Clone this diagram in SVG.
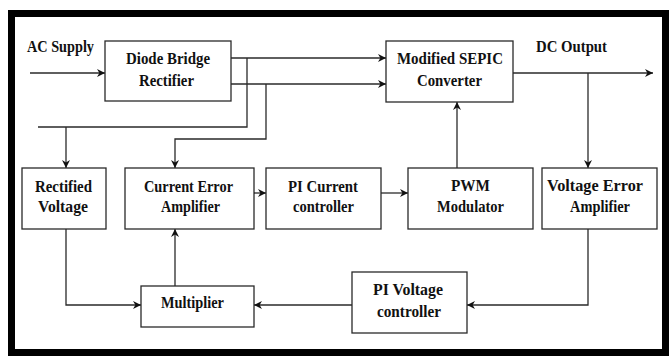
<svg xmlns="http://www.w3.org/2000/svg" width="669" height="356" viewBox="0 0 669 356">
  <style>
    .box { fill: #ffffff; stroke: #2a2a2a; stroke-width: 1.3; }
    .wire { fill: none; stroke: #2a2a2a; stroke-width: 1.3; }
    .arr { marker-end: url(#head); }
  </style>
  <defs>
    <marker id="head" viewBox="0 0 10 10" refX="10" refY="5" markerWidth="8" markerHeight="8" markerUnits="userSpaceOnUse" orient="auto">
      <path d="M0,0 L10,5 L0,10 L3,5 Z" fill="#111111"/>
    </marker>
  </defs>

  <rect x="0" y="0" width="669" height="356" fill="#ffffff"/>
  <!-- outer frame -->
  <rect x="11.5" y="13.5" width="654" height="339" fill="none" stroke="#000000" stroke-width="7"/>

  <g id="connectors">
    <!-- AC input -->
    <path class="wire arr" d="M30,73 H105"/>
    <!-- rectifier to converter -->
    <path class="wire arr" d="M231,58 H386"/>
    <path class="wire arr" d="M231,84 H386"/>
    <!-- rectified voltage sensing -->
    <path class="wire" d="M247,58 V127 H38"/>
    <path class="wire arr" d="M66,127 V168"/>
    <!-- current sensing -->
    <path class="wire arr" d="M266,84 V139 H175 V168"/>
    <!-- DC output -->
    <path class="wire arr" d="M513,73 H653"/>
    <path class="wire arr" d="M588,73 V168"/>
    <!-- PWM to converter -->
    <path class="wire arr" d="M457,168 V102"/>
    <!-- current loop -->
    <path class="wire arr" d="M254,193 H266"/>
    <path class="wire arr" d="M381,193 H408"/>
    <!-- reference path -->
    <path class="wire arr" d="M66,229 V305 H141"/>
    <path class="wire arr" d="M175,286 V229"/>
    <path class="wire arr" d="M352,305 H254"/>
    <path class="wire arr" d="M588,229 V305 H467"/>
  </g>

  <!-- free labels -->
  <g id="labels">
    <text x="27" y="52" font-family="'Liberation Serif', serif" font-weight="bold" font-size="17" fill="#111111" textLength="67" lengthAdjust="spacingAndGlyphs">AC Supply</text>
    <text x="536" y="52" font-family="'Liberation Serif', serif" font-weight="bold" font-size="17" fill="#111111" textLength="71" lengthAdjust="spacingAndGlyphs">DC Output</text>
  </g>

  <g id="diode-bridge">
    <rect class="box" x="105" y="41" width="126" height="60"/>
    <text x="168" y="63.5" text-anchor="middle" font-family="'Liberation Serif', serif" font-weight="bold" font-size="17" fill="#111111" textLength="84" lengthAdjust="spacingAndGlyphs">Diode Bridge</text>
    <text x="166.5" y="86" text-anchor="middle" font-family="'Liberation Serif', serif" font-weight="bold" font-size="17" fill="#111111" textLength="55" lengthAdjust="spacingAndGlyphs">Rectifier</text>
  </g>

  <g id="sepic">
    <rect class="box" x="386" y="41" width="127" height="61"/>
    <text x="450" y="64" text-anchor="middle" font-family="'Liberation Serif', serif" font-weight="bold" font-size="17" fill="#111111" textLength="106" lengthAdjust="spacingAndGlyphs">Modified SEPIC</text>
    <text x="449.5" y="86" text-anchor="middle" font-family="'Liberation Serif', serif" font-weight="bold" font-size="17" fill="#111111" textLength="65" lengthAdjust="spacingAndGlyphs">Converter</text>
  </g>

  <g id="rectified-voltage">
    <rect class="box" x="22" y="168" width="84" height="61"/>
    <text x="63.5" y="191.5" text-anchor="middle" font-family="'Liberation Serif', serif" font-weight="bold" font-size="17" fill="#111111" textLength="57" lengthAdjust="spacingAndGlyphs">Rectified</text>
    <text x="63" y="211.5" text-anchor="middle" font-family="'Liberation Serif', serif" font-weight="bold" font-size="17" fill="#111111" textLength="50" lengthAdjust="spacingAndGlyphs">Voltage</text>
  </g>

  <g id="current-error-amplifier">
    <rect class="box" x="125" y="168" width="129" height="61"/>
    <text x="188.5" y="191.5" text-anchor="middle" font-family="'Liberation Serif', serif" font-weight="bold" font-size="17" fill="#111111" textLength="89" lengthAdjust="spacingAndGlyphs">Current  Error</text>
    <text x="190.5" y="212" text-anchor="middle" font-family="'Liberation Serif', serif" font-weight="bold" font-size="17" fill="#111111" textLength="59" lengthAdjust="spacingAndGlyphs">Amplifier</text>
  </g>

  <g id="pi-current">
    <rect class="box" x="266" y="168" width="115" height="61"/>
    <text x="323" y="191.5" text-anchor="middle" font-family="'Liberation Serif', serif" font-weight="bold" font-size="17" fill="#111111" textLength="70" lengthAdjust="spacingAndGlyphs">PI Current</text>
    <text x="323.5" y="212" text-anchor="middle" font-family="'Liberation Serif', serif" font-weight="bold" font-size="17" fill="#111111" textLength="61" lengthAdjust="spacingAndGlyphs">controller</text>
  </g>

  <g id="pwm">
    <rect class="box" x="408" y="168" width="125" height="61"/>
    <text x="470.5" y="191" text-anchor="middle" font-family="'Liberation Serif', serif" font-weight="bold" font-size="17" fill="#111111" textLength="39" lengthAdjust="spacingAndGlyphs">PWM</text>
    <text x="470.5" y="212" text-anchor="middle" font-family="'Liberation Serif', serif" font-weight="bold" font-size="17" fill="#111111" textLength="67" lengthAdjust="spacingAndGlyphs">Modulator</text>
  </g>

  <g id="voltage-error-amplifier">
    <rect class="box" x="542" y="168" width="115" height="61"/>
    <text x="595" y="191" text-anchor="middle" font-family="'Liberation Serif', serif" font-weight="bold" font-size="17" fill="#111111" textLength="96" lengthAdjust="spacingAndGlyphs">Voltage Error</text>
    <text x="600" y="212" text-anchor="middle" font-family="'Liberation Serif', serif" font-weight="bold" font-size="17" fill="#111111" textLength="60" lengthAdjust="spacingAndGlyphs">Amplifier</text>
  </g>

  <g id="multiplier">
    <rect class="box" x="141" y="286" width="113" height="41"/>
    <text x="192.5" y="308" text-anchor="middle" font-family="'Liberation Serif', serif" font-weight="bold" font-size="17" fill="#111111" textLength="63" lengthAdjust="spacingAndGlyphs">Multiplier</text>
  </g>

  <g id="pi-voltage">
    <rect class="box" x="352" y="272" width="115" height="61"/>
    <text x="408" y="295" text-anchor="middle" font-family="'Liberation Serif', serif" font-weight="bold" font-size="17" fill="#111111" textLength="70" lengthAdjust="spacingAndGlyphs">PI Voltage</text>
    <text x="409" y="316.5" text-anchor="middle" font-family="'Liberation Serif', serif" font-weight="bold" font-size="17" fill="#111111" textLength="64" lengthAdjust="spacingAndGlyphs">controller</text>
  </g>
</svg>
